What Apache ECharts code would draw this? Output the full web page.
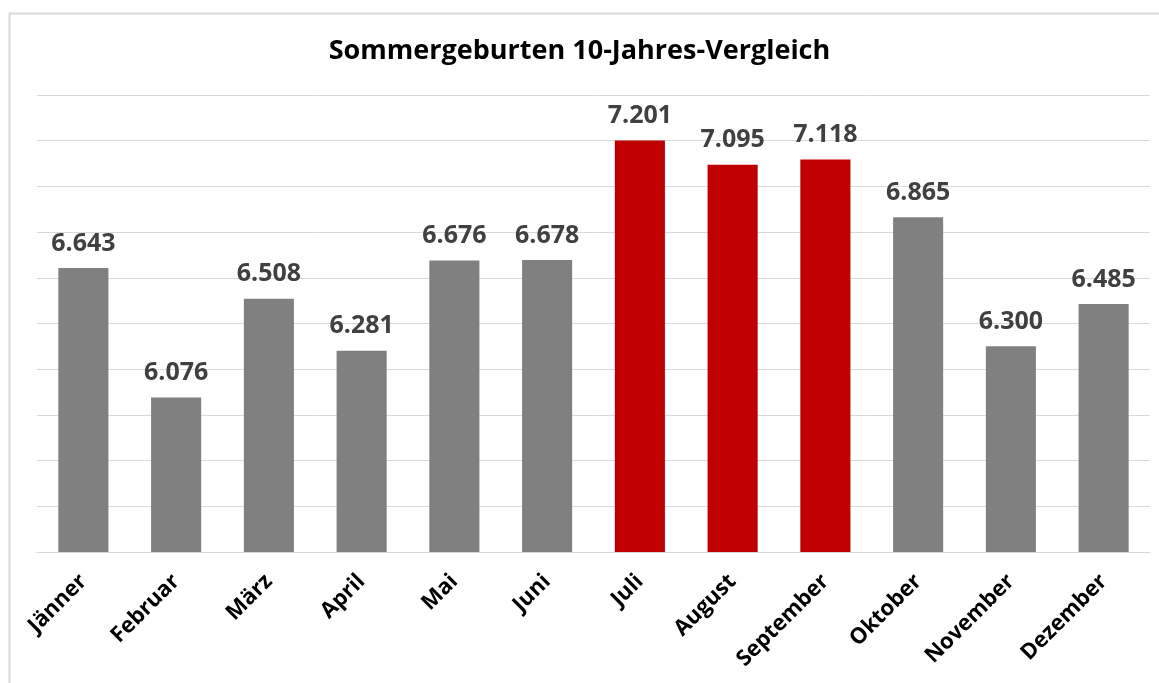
<!DOCTYPE html>
<html>
<head>
    <meta charset="UTF-8">
    <title>Sommergeburten 10-Jahres-Vergleich</title>
    <style>
        html, body { margin: 0; padding: 0; background: #fff; }
    </style>
</head>
<body>
    <div id="main" style="width: 1159px;height:683px;"></div>
    <script src="https://cdn.jsdelivr.net/npm/echarts@6/dist/echarts.min.js"></script>
    <script type="text/javascript">
        // Monate und Werte (Geburten im Mittel)
        var monate = ['Jänner', 'Februar', 'März', 'April', 'Mai', 'Juni', 'Juli', 'August', 'September', 'Oktober', 'November', 'Dezember'];
        var geburten = [6.643, 6.076, 6.508, 6.281, 6.676, 6.678, 7.201, 7.095, 7.118, 6.865, 6.300, 6.485];
        // Sommermonate rot hervorheben
        var sommer = ['Juli', 'August', 'September'];

        var grau = '#808080';
        var rot = '#c00000';

        var barData = [];
        for (var i = 0; i < monate.length; i++) {
            barData.push({
                value: geburten[i],
                itemStyle: { color: sommer.indexOf(monate[i]) >= 0 ? rot : grau }
            });
        }

        var myChart = echarts.init(document.getElementById('main'));
        myChart.setOption({
            animation: false,
            title: {
                text: 'Sommergeburten 10-Jahres-Vergleich',
                left: 'center',
                top: 33,
                textStyle: {
                    fontFamily: 'Open Sans',
                    fontSize: 27,
                    fontWeight: 'bold',
                    color: '#000'
                }
            },
            graphic: [{
                type: 'rect',
                shape: { x: 9.5, y: 13.5, width: 1160, height: 700 },
                style: { fill: 'none', stroke: '#d9d9d9', lineWidth: 2 },
                silent: true
            }],
            grid: {
                left: 37,
                right: 9,
                top: 95,
                bottom: 131
            },
            xAxis: {
                type: 'category',
                data: monate,
                axisTick: { show: false },
                axisLine: { show: true, lineStyle: { color: '#d9d9d9' } },
                axisLabel: {
                    rotate: 45,
                    interval: 0,
                    margin: 26,
                    fontFamily: 'Open Sans',
                    fontSize: 22,
                    fontWeight: 'bold',
                    color: '#000'
                }
            },
            yAxis: {
                type: 'value',
                min: 5.4,
                max: 7.4,
                interval: 0.2,
                axisLabel: { show: false },
                axisLine: { show: false },
                axisTick: { show: false },
                splitLine: { lineStyle: { color: '#d9d9d9' } }
            },
            series: [{
                type: 'bar',
                data: barData,
                barWidth: '54%',
                label: {
                    show: true,
                    position: 'top',
                    distance: 12,
                    fontFamily: 'Open Sans',
                    fontSize: 25,
                    fontWeight: 'bold',
                    color: '#404040',
                    formatter: function (p) { return p.value.toFixed(3); }
                }
            }]
        });
    </script>
</body>
</html>
